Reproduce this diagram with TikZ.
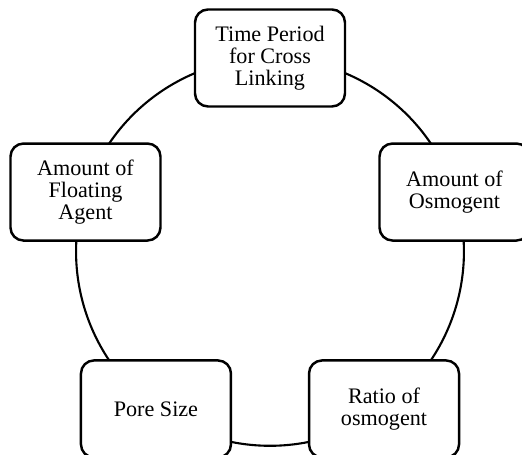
\documentclass[tikz,border=0pt]{standalone}
\usepackage{fontspec}
\setmainfont{Liberation Serif}
\usetikzlibrary{backgrounds}

\begin{document}
\begin{tikzpicture}[font=\fontsize{12.6}{12.5}\selectfont,
  b/.style={draw,fill=white,line width=1.4pt,rounded corners=0.26cm,minimum width=3cm,minimum height=1.94cm,align=center,inner sep=2pt},
  ring/.style={line width=1.2pt,bend right=36,looseness=0.94}]
\clip (-5.4,-4.06) rectangle (5.04,5.04);
\node[b] (t) at (90:3.88) {Time Period\\for Cross\\Linking};
\node[b] (f) at (162:3.88) {Amount of\\Floating\\Agent};
\node[b] (p) at (234:3.88) {Pore Size};
\node[b] (r) at (306:3.88) {Ratio of\\osmogent};
\node[b] (o) at (18:3.88) {Amount of\\Osmogent};
% ring behind the boxes
\begin{scope}[on background layer]
\foreach \a/\c in {t/f,f/p,p/r,r/o,o/t}
  \draw[ring] (\a.center) to (\c.center);
\end{scope}
\end{tikzpicture}
\end{document}
